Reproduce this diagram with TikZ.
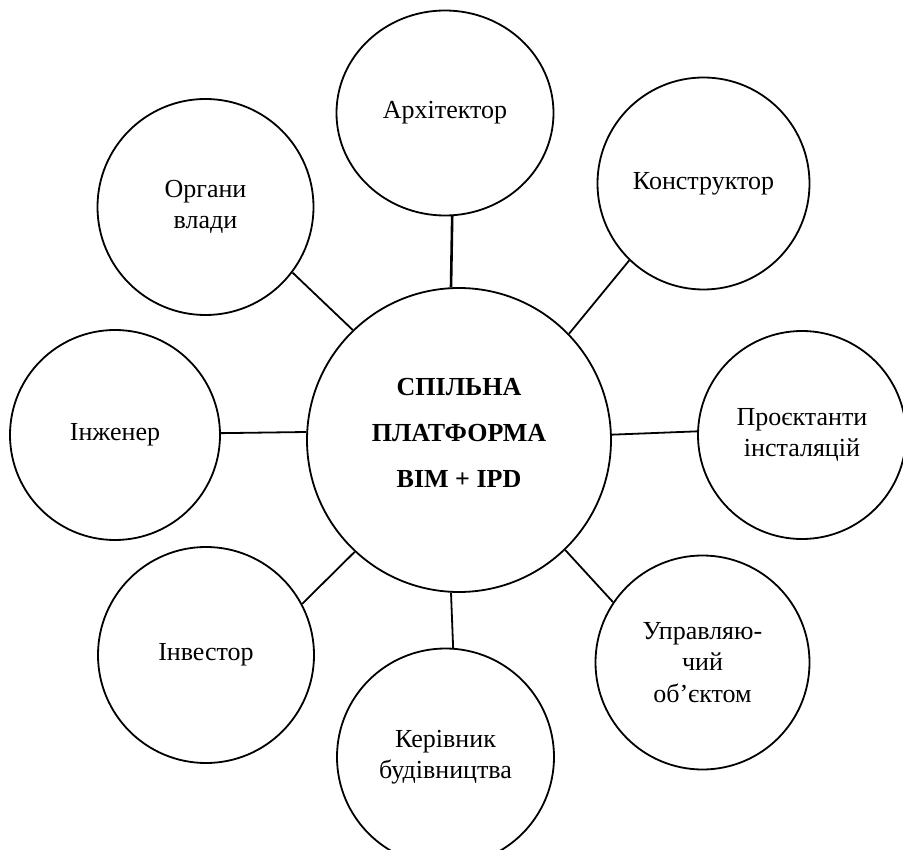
\documentclass[tikz,border=0pt]{standalone}
\usepackage{fontspec}
\setmainfont{Liberation Serif}
\usetikzlibrary{shapes.geometric}
\begin{document}
\begin{tikzpicture}[x=1pt,y=-1pt,
  bub/.style={circle,draw,line width=1.8pt,inner sep=0pt,align=center,
    font=\fontsize{26}{31.5}\selectfont},
  link/.style={line width=1.8pt}]
\useasboundingbox (0,0) rectangle (903,850);
\clip (0,0) rectangle (903,850);
\node[bub,minimum size=304pt] (c) at (459,440) {};
\node[align=center,inner sep=0pt,font=\fontsize{26}{46}\selectfont\bfseries] (ct) at (459,433) {СПІЛЬНА\\ПЛАТФОРМА\\BIM + IPD};
\node[bub,ellipse,minimum width=217pt,minimum height=205pt] (arch) at (445,113) {Архітектор};
\node[bub,minimum size=212pt] (kon) at (703.5,183.5) {Конструктор};
\node[bub,minimum size=208pt] (pro) at (802,435) {Проєктанти\\інсталяцій};
\node[bub,minimum size=214pt] (upr) at (702.5,662.5) {Управляю-\\чий\\об’єктом};
\node[bub,minimum size=217pt] (ker) at (445.5,757) {Керівник\\будівництва};
\node[bub,minimum size=216pt] (inv) at (206,655) {Інвестор};
\node[bub,minimum size=210pt] (ing) at (115,435) {Інженер};
\node[bub,minimum size=216pt] (org) at (205.5,207) {Органи\\влади};
\draw[link,line width=2.6pt] (arch.-86) -- (c.93);
\draw[link] (kon.-134.6) -- (c.44.5);
\draw[link] (pro.178.9) -- (c.2.6);
\draw[link] (upr.146) -- (c.-46.9);
\draw[link] (ker.86.6) -- (c.-93);
\draw[link] (inv.28.2) -- (c.-133.7);
\draw[link] (ing.1.1) -- (c.177.4);
\draw[link] (org.-37) -- (c.134.2);
\end{tikzpicture}
\end{document}
